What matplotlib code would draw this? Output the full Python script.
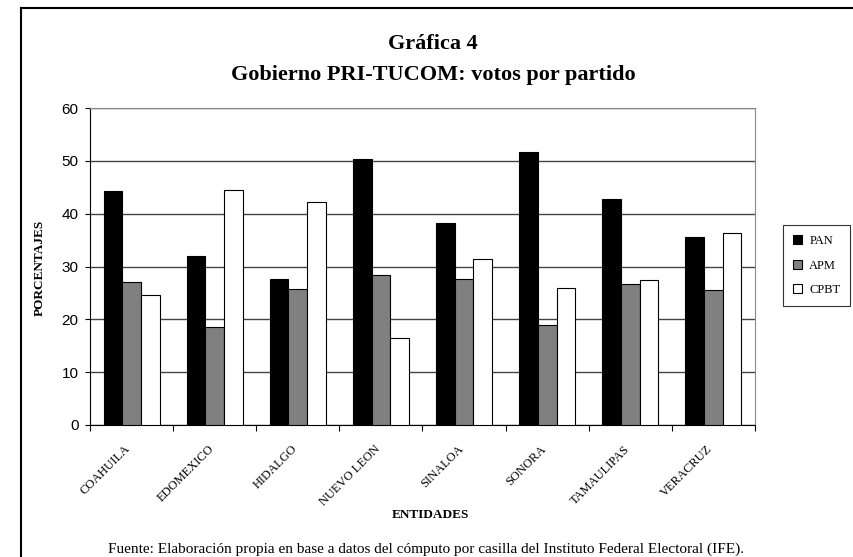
import matplotlib
matplotlib.use("Agg")
import matplotlib.pyplot as plt
import matplotlib.transforms as mtransforms
from matplotlib.lines import Line2D
import numpy as np

# datos
entidades = ["COAHUILA", "EDOMEXICO", "HIDALGO", "NUEVO LEON",
             "SINALOA", "SONORA", "TAMAULIPAS", "VERACRUZ"]
pan = [44.2, 32.0, 27.6, 50.4, 38.2, 51.6, 42.8, 35.5]
apm = [27.0, 18.5, 25.8, 28.4, 27.7, 19.0, 26.7, 25.6]
cpbt = [24.6, 44.5, 42.2, 16.4, 31.5, 26.0, 27.4, 36.3]
partidos = ["PAN", "APM", "CPBT"]
colores = ["black", "#808080", "white"]
yticks = [0, 10, 20, 30, 40, 50, 60]

serif = "Liberation Serif"
sans = "Liberation Sans"

fig = plt.figure(figsize=(8.54, 5.57), dpi=100)
ax = fig.add_axes([90 / 854, 132 / 557, 665 / 854, 317 / 557])

x = np.arange(len(entidades)) + 0.5
w = 0.225
for j, (serie, color) in enumerate(zip([pan, apm, cpbt], colores)):
    ax.bar(x + (j - 1) * w, serie, width=w, color=color, edgecolor="black",
           linewidth=0.8, label=partidos[j], zorder=3)

ax.set_xlim(0, len(entidades))
ax.set_ylim(0, 60)
ax.set_yticks(yticks)
ax.set_yticklabels([str(v) for v in yticks], fontfamily=sans, fontsize=11)
ax.yaxis.grid(True, color="#444444", linewidth=1.0, zorder=0)

# ticks en los limites de cada entidad, etiquetas al centro
ax.set_xticks(np.arange(len(entidades) + 1))
ax.set_xticklabels([])
ax.set_xticks(x, minor=True)
ax.set_xticklabels(entidades, minor=True, rotation=45, ha="right", va="top",
                   rotation_mode="anchor", fontfamily=serif, fontsize=9)
ax.tick_params(axis="x", which="minor", length=0, pad=13)
ax.tick_params(axis="x", which="major", length=4, direction="out", color="black")
ax.tick_params(axis="y", length=3.6, pad=4.5, direction="out", color="black")

desplaza = mtransforms.ScaledTranslation(-7 / 100, 0, fig.dpi_scale_trans)
for lbl in ax.get_xticklabels(minor=True):
    lbl.set_transform(lbl.get_transform() + desplaza)

for side in ["top", "right"]:
    ax.spines[side].set_color("#888888")
ax.spines["left"].set_color("black")
ax.spines["bottom"].set_color("black")

leg = ax.legend(loc="upper left", bbox_to_anchor=(783 / 854, 1 - 225 / 557),
                bbox_transform=fig.transFigure, prop={"family": serif, "size": 9},
                frameon=True, fancybox=False, edgecolor="black", handlelength=0.7,
                handleheight=0.7, handletextpad=0.6, labelspacing=1.0,
                borderpad=0.8, borderaxespad=0)
leg.get_frame().set_linewidth(0.8)

fig.text(433 / 854, 1 - 44 / 557, "Gráfica 4", ha="center", va="center",
         fontfamily=serif, fontsize=16, fontweight="bold")
fig.text(433 / 854, 1 - 75 / 557, "Gobierno PRI-TUCOM: votos por partido",
         ha="center", va="center", fontfamily=serif, fontsize=16, fontweight="bold")
fig.text(40 / 854, 1 - 268 / 557, "PORCENTAJES", rotation=90, ha="center",
         va="center", fontfamily=serif, fontsize=9.5, fontweight="bold")
fig.text(430 / 854, 1 - 515 / 557, "ENTIDADES", ha="center", va="center",
         fontfamily=serif, fontsize=9.5, fontweight="bold")
fig.text(426 / 854, 1 - 549 / 557,
         "Fuente: Elaboración propia en base a datos del cómputo por casilla del "
         "Instituto Federal Electoral (IFE).",
         ha="center", va="center", fontfamily=serif, fontsize=11)

# marco exterior
fig.add_artist(Line2D([21 / 854, 1], [1 - 7.5 / 557, 1 - 7.5 / 557],
                      transform=fig.transFigure, color="black", linewidth=1.5))
fig.add_artist(Line2D([21 / 854, 21 / 854], [0, 1 - 7.5 / 557],
                      transform=fig.transFigure, color="black", linewidth=1.5))

fig.savefig("out.png", dpi=100)
